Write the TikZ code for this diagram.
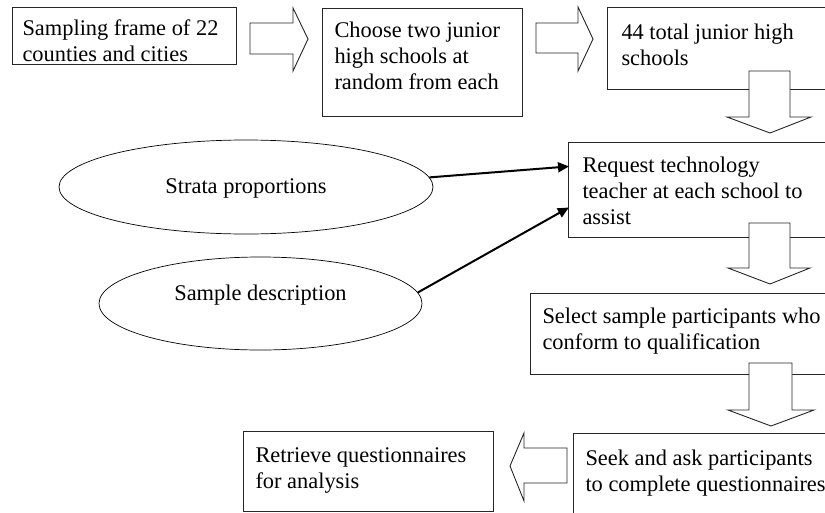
\documentclass[tikz,border=0pt]{standalone}
\usepackage{fontspec}
\setmainfont{Liberation Serif}
\usetikzlibrary{shapes.geometric,arrows.meta}
\newcommand\boxtext[5]{\parbox[t][#2][t]{#1}{\vspace*{#3}\raggedright\leftskip=#4\relax\strut #5}}
\begin{document}
\begin{tikzpicture}[x=1pt,y=-1pt,
  every node/.style={font=\fontsize{22.4}{26}\selectfont},
  box/.style={draw=black!85, line width=1pt, rectangle, anchor=north west, inner sep=0pt},
  oval/.style={draw=black, line width=0.7pt, ellipse, inner sep=0pt},
  blockarrow/.style={draw=black!85, line width=0.9pt, fill=white, line join=miter},
  conn/.style={draw=black, line width=2pt, -{Triangle[length=11pt,width=10pt]}, shorten >=-1pt}]
\useasboundingbox (0,0) rectangle (825,512);
\clip (0,0) rectangle (825,512);
\fill[white] (0,0) rectangle (825,512);
% boxes
\node[box] (b1) at (12,7) {\boxtext{224pt}{57pt}{9.3pt}{10pt}{Sampling frame of 22\\counties and cities}};
\node[box] (b2) at (322,8) {\boxtext{200pt}{108pt}{10.8pt}{12pt}{Choose two junior\\high schools at\\random from each}};
\node[box] (b3) at (607,7) {\boxtext{230pt}{82pt}{13.8pt}{14pt}{44 total junior high\\schools}};
\node[box] (b4) at (568,142) {\boxtext{270pt}{95pt}{11.8pt}{14pt}{Request technology\\teacher at each school to\\assist}};
\node[box] (b5) at (530,293) {\boxtext{310pt}{81pt}{11.8pt}{12pt}{Select sample participants who\\conform to qualification}};
\node[box] (b6) at (573,433) {\boxtext{270pt}{90pt}{13.8pt}{12pt}{Seek and ask participants\\to complete questionnaires}};
\node[box] (b7) at (243,431) {\boxtext{250pt}{80pt}{12.8pt}{12pt}{Retrieve questionnaires\\for analysis}};
% ellipses
\node[oval, minimum width=374pt, minimum height=94pt, text height=16pt, text depth=4pt] (e1) at (246,187) {Strata proportions};
\node[oval, minimum width=323pt, minimum height=93pt, text height=15pt, text depth=22pt] (e2) at (260.5,303.5) {Sample description};
% connectors
\draw[conn] (e1.3) -- ([yshift=23.5pt]b4.west);
\draw[conn] (e2.4) -- ([yshift=-18pt]b4.west);
% block arrows
\draw[blockarrow] (250,23) -- (293,23) -- (293,8) -- (308,39) -- (293,71) -- (293,54) -- (250,54) -- cycle;
\draw[blockarrow] (536,23) -- (578,23) -- (578,7) -- (593,39) -- (578,71) -- (578,53) -- (536,53) -- cycle;
\draw[blockarrow] (749,71) -- (790,71) -- (790,117) -- (811,117) -- (770,133) -- (727,117) -- (749,117) -- cycle;
\draw[blockarrow] (749,223) -- (790,223) -- (790,268) -- (810,268) -- (770,284) -- (728,268) -- (749,268) -- cycle;
\draw[blockarrow] (749,363) -- (792,363) -- (792,410) -- (814,410) -- (771,426) -- (728,410) -- (749,410) -- cycle;
\draw[blockarrow] (567,448) -- (524,448) -- (524,433) -- (510,466) -- (524,501) -- (524,483) -- (567,483) -- cycle;
\end{tikzpicture}
\end{document}
